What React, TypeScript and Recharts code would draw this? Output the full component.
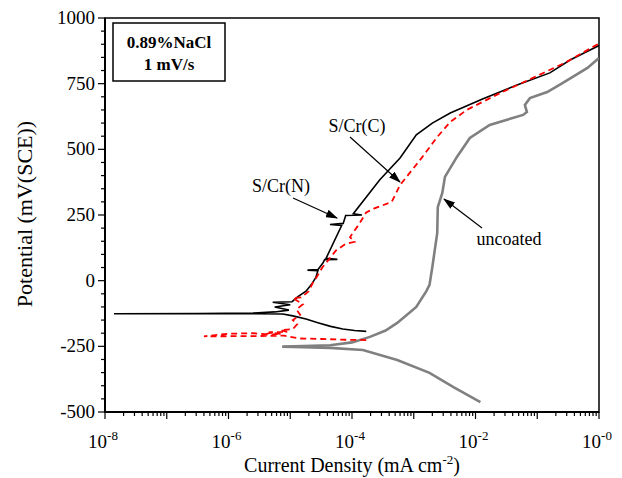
import React from 'react'
import { LineChart, Line, XAxis, YAxis, ReferenceArea } from 'recharts'

// uncoated (gray) - current density in mA/cm2, potential in mV(SCE)
const uncoatedCurrent = [
  1.2e-2, 4.4e-3, 1.8e-3, 5.4e-4, 1.5e-4, 4.4e-5, 1.6e-5, 7.4e-6, 1.6e-5, 4.4e-5,
  1.0e-4, 1.95e-4, 3.5e-4, 5.4e-4, 1.1e-3, 1.6e-3, 1.8e-3, 2.0e-3, 2.2e-3, 2.4e-3,
  2.45e-3, 2.9e-3, 3.2e-3, 5.0e-3, 8.1e-3, 1.7e-2, 5.9e-2, 6.8e-2, 6.3e-2, 7.6e-2,
  0.145, 0.26, 0.65, 1.0,
]
const uncoatedPotential = [
  -462, -405, -351, -302, -264, -256, -253, -251, -249, -246,
  -235, -214, -190, -161, -100, -40, -16, 52, 120, 181,
  280, 334, 395, 471, 543, 593, 631, 642, 669, 695,
  718, 753, 810, 848,
]

// S/Cr(N) (black solid)
const nitrideCurrent = [
  1.7e-4, 1.1e-4, 7.1e-5, 4.5e-5, 2.8e-5, 1.8e-5, 1.1e-5, 7.6e-6, 2.5e-6, 3.2e-7,
  1.4e-8, 3.2e-7, 2.5e-6, 5.6e-6, 9.5e-6, 5.6e-6, 1.0e-5, 5.2e-6, 1.07e-5, 1.35e-5,
  1.8e-5, 2.2e-5, 2.6e-5, 2.8e-5, 1.9e-5, 2.8e-5, 3.4e-5, 3.6e-5, 5.8e-5, 3.8e-5,
  6.8e-5, 4.4e-5, 7.2e-5, 7.9e-5, 1.45e-4, 1.05e-4, 2.8e-4, 6.0e-4, 1.1e-3, 2.0e-3,
  3.9e-3, 1.3e-2, 4.7e-2, 0.16, 0.34, 1.0,
]
const nitridePotential = [
  -193, -190, -184, -174, -160, -146, -134, -127, -126, -126,
  -126, -125, -123, -119, -112, -100, -92, -82, -80, -60,
  -40, -15, 12, 38, 40, 42, 68, 80, 81, 85,
  210, 214, 218, 248, 250, 255, 383, 467, 555, 600,
  638, 692, 745, 791, 840, 895,
]

// S/Cr(C) (red dashed)
const carbideCurrent = [
  1.7e-4, 7.9e-5, 3.2e-5, 1.4e-5, 1.0e-5, 7.9e-6, 6.3e-6, 2.5e-6, 4.0e-7, 1.0e-6,
  2.5e-6, 4.0e-6, 5.0e-6, 3.5e-6, 7.1e-6, 4.5e-6, 8.9e-6, 7.0e-6, 1.1e-5, 1.3e-5,
  1.1e-5, 1.45e-5, 1.26e-5, 1.6e-5, 1.1e-5, 1.5e-5, 2.0e-5, 2.3e-5, 2.7e-5, 3.3e-5,
  4.2e-5, 5.5e-5, 7.9e-5, 1.1e-4, 9.3e-5, 1.3e-4, 1.7e-4, 2.3e-4, 4.4e-4, 6.0e-4,
  1.26e-3, 2.4e-3, 3.9e-3, 7.2e-3, 2.5e-2, 8.5e-2, 0.3, 1.0,
]
const carbidePotential = [
  -226, -225, -222, -220, -214, -209, -210, -211, -212, -202,
  -200, -204, -198, -206, -203, -196, -195, -188, -185, -165,
  -150, -130, -110, -90, -66, -64, -40, -10, 15, 50,
  80, 115, 140, 148, 166, 215, 260, 275, 300, 364,
  459, 547, 604, 650, 714, 772, 833, 903,
]

const yMajorTicks = [-500, -250, 0, 250, 500, 750, 1000]
const yMinorSteps = [50, 100, 150, 200]
const xDecades = [-8, -7, -6, -5, -4, -3, -2, -1, 0]
const xMinorFactors = [2, 3, 4, 5, 6, 7, 8, 9]
const xLabelledDecades = [-8, -6, -4, -2, 0]

const zip = (cur: number[], pot: number[]) => cur.map((c, k) => ({ i: c, e: pot[k] }))
const uncoated = zip(uncoatedCurrent, uncoatedPotential)
const nitride = zip(nitrideCurrent, nitridePotential)
const carbide = zip(carbideCurrent, carbidePotential)

const yTicks = [
  ...yMajorTicks,
  ...yMajorTicks.slice(0, -1).flatMap(t => yMinorSteps.map(s => t + s)),
].sort((a, b) => a - b)

const xTicks = [
  ...xDecades.map(d => Math.pow(10, d)),
  ...xDecades.slice(0, -1).flatMap(d => xMinorFactors.map(f => f * Math.pow(10, d))),
].sort((a, b) => a - b)

const FONT = '"Liberation Serif", "Times New Roman", serif'

function XTick({ x, y, payload }: any) {
  const lg = Math.log10(payload.value)
  const e = Math.round(lg)
  const major = Math.abs(lg - e) < 1e-6
  return (
    <g>
      <line x1={x} x2={x} y1={y} y2={y + (major ? 7 : 4)} stroke="#000" strokeWidth={1.2} />
      {major && xLabelledDecades.includes(e) && (
        <text x={x - 2} y={y + 36} textAnchor="middle" fontFamily={FONT} fontSize={19} fill="#000">
          10<tspan dy={-8} fontSize={13}>{e === 0 ? '-0' : String(e)}</tspan>
        </text>
      )}
    </g>
  )
}

function YTick({ x, y, payload }: any) {
  const v = payload.value
  const major = v % 250 === 0
  return (
    <g>
      <line x1={x - (major ? 7 : 4)} x2={x} y1={y} y2={y} stroke="#000" strokeWidth={1.2} />
      {major && (
        <text x={x - 10} y={y + 6} textAnchor="end" fontFamily={FONT} fontSize={19} fill="#000">
          {v}
        </text>
      )}
    </g>
  )
}

function Overlay() {
  return (
    <svg width={622} height={478} style={{ position: 'absolute', left: 0, top: 0, pointerEvents: 'none' }}>
      <defs>
        <marker id="ah" markerWidth="12" markerHeight="8" refX="11" refY="4" orient="auto" markerUnits="userSpaceOnUse">
          <path d="M0,0 L12,4 L0,8 Z" fill="#000" />
        </marker>
      </defs>
      <rect x={113} y={23} width={112} height={58} fill="#fff" stroke="#000" strokeWidth={1.5} />
      <text x={169} y={48} textAnchor="middle" fontFamily={FONT} fontSize={17} fontWeight="bold">0.89%NaCl</text>
      <text x={169} y={70} textAnchor="middle" fontFamily={FONT} fontSize={17} fontWeight="bold">1 mV/s</text>

      <text x={357} y={132} textAnchor="middle" fontFamily={FONT} fontSize={18}>S/Cr(C)</text>
      <line x1={350} y1={137} x2={400} y2={182} stroke="#000" strokeWidth={1.2} markerEnd="url(#ah)" />

      <text x={281} y={192} textAnchor="middle" fontFamily={FONT} fontSize={18}>S/Cr(N)</text>
      <line x1={293} y1={198} x2={337} y2={218} stroke="#000" strokeWidth={1.2} markerEnd="url(#ah)" />

      <text x={509} y={245} textAnchor="middle" fontFamily={FONT} fontSize={18}>uncoated</text>
      <line x1={482} y1={228} x2={444} y2={199} stroke="#000" strokeWidth={1.2} markerEnd="url(#ah)" />

      <text x={352} y={472} textAnchor="middle" fontFamily={FONT} fontSize={20}>
        Current Density (mA cm<tspan dy={-8} fontSize={13}>-2</tspan><tspan dy={8}>)</tspan>
      </text>
      <text x={32} y={214} textAnchor="middle" fontFamily={FONT} fontSize={22} transform="rotate(-90 32 214)">
        Potential (mV(SCE))
      </text>
    </svg>
  )
}

export default function App() {
  return (
    <div style={{ position: 'absolute', left: 0, top: 0, width: 622, height: 478, background: '#fff' }}>
      <LineChart width={622} height={478} margin={{ top: 18, right: 23, left: 0, bottom: 0 }}>
        <XAxis
          type="number"
          dataKey="i"
          scale="log"
          domain={[1e-8, 1]}
          allowDataOverflow
          ticks={xTicks}
          interval={0}
          tick={<XTick />}
          tickLine={false}
          tickSize={0}
          tickMargin={0}
          height={66}
          axisLine={{ stroke: '#000', strokeWidth: 2 }}
        />
        <YAxis
          type="number"
          dataKey="e"
          domain={[-500, 1000]}
          allowDataOverflow
          ticks={yTicks}
          interval={0}
          tick={<YTick />}
          tickLine={false}
          tickSize={0}
          tickMargin={0}
          width={105}
          axisLine={{ stroke: '#000', strokeWidth: 2 }}
        />
        <ReferenceArea x1={1e-8} x2={1} y1={-500} y2={1000} fill="none" stroke="#000" strokeWidth={1.5} ifOverflow="visible" />
        <Line data={uncoated} dataKey="e" stroke="#808080" strokeWidth={2.6} dot={false} isAnimationActive={false} type="linear" />
        <Line data={nitride} dataKey="e" stroke="#000" strokeWidth={1.6} dot={false} isAnimationActive={false} type="linear" />
        <Line data={carbide} dataKey="e" stroke="#ff0000" strokeWidth={1.8} strokeDasharray="6 4" dot={false} isAnimationActive={false} type="linear" />
      </LineChart>
      <Overlay />
    </div>
  )
}
